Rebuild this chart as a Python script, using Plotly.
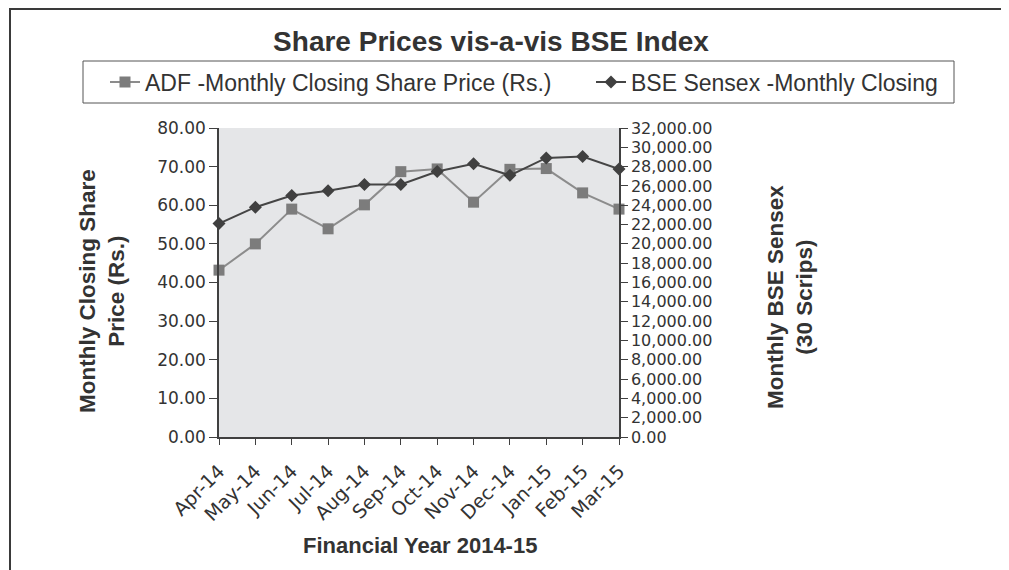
import plotly.graph_objects as go

months = ["Apr-14", "May-14", "Jun-14", "Jul-14", "Aug-14", "Sep-14",
          "Oct-14", "Nov-14", "Dec-14", "Jan-15", "Feb-15", "Mar-15"]
adf_price = [43.2, 50.0, 59.0, 53.9, 60.1, 68.7, 69.4, 60.8, 69.3, 69.5, 63.2, 59.0]
bse_sensex = [22100, 23800, 25000, 25500, 26150, 26150, 27500, 28300, 27100, 28900, 29050, 27750]

left_ticks = [0, 10, 20, 30, 40, 50, 60, 70, 80]
right_ticks = list(range(0, 32001, 2000))

FONT = "Liberation Sans, Arial, sans-serif"
TICKFONT = "DejaVu Sans, Verdana, sans-serif"
TXT = "#333333"
AX = "#404040"

OFF = 8                      # page body margin
W, H = 1009 - OFF, 570 - OFF
# plot area in screen pixels of the reference
L, R, T, B = 219, 619, 128, 437
def px(x):
    return (x - L) / (R - L)
def py(y):
    return (B - y) / (B - T)

fig = go.Figure()
fig.add_trace(go.Scatter(
    x=months, y=adf_price, name="ADF -Monthly Closing Share Price (Rs.)",
    mode="lines+markers", cliponaxis=False, legend="legend",
    line=dict(color="#8c8c8c", width=2),
    marker=dict(symbol="square", size=11, color="#7c7c7c"),
    yaxis="y"))
fig.add_trace(go.Scatter(
    x=months, y=bse_sensex, name="BSE Sensex -Monthly Closing",
    mode="lines+markers", cliponaxis=False, legend="legend2",
    line=dict(color="#454545", width=2),
    marker=dict(symbol="diamond", size=10, color="#404040"),
    yaxis="y2"))

legend_common = dict(orientation="h", xanchor="left", yanchor="middle",
                     y=py(82), borderwidth=0, bgcolor="rgba(0,0,0,0)",
                     font=dict(family=FONT, size=23, color=TXT), itemwidth=30)

fig.update_layout(
    width=W, height=H,
    margin=dict(l=L - OFF, r=W - (R - OFF), t=T - OFF, b=H - (B - OFF)),
    paper_bgcolor="white",
    plot_bgcolor="#e5e6e8",
    font=dict(family=FONT, color=TXT, size=19),
    title=dict(text="<b>Share Prices vis-a-vis BSE Index</b>",
               x=(491 - OFF) / W, xref="container", xanchor="center",
               y=1 - (41 - OFF) / H, yref="container", yanchor="middle",
               font=dict(family=FONT, size=28, color=TXT)),
    showlegend=True,
    legend=dict(x=px(105), **legend_common),
    legend2=dict(x=px(591), **legend_common),
    xaxis=dict(type="category", range=[0, len(months) - 1],
               tickangle=-45, showline=True, linecolor=AX, linewidth=1.5,
               ticks="outside", ticklen=6, tickcolor=AX, showgrid=False,
               ticklabelstandoff=8,
               tickfont=dict(family=TICKFONT, size=19, color=TXT), zeroline=False),
    yaxis=dict(range=[0, 80], tickvals=left_ticks, tickformat=".2f",
               showline=True, linecolor=AX, linewidth=1.5,
               ticks="outside", ticklen=8, tickcolor=AX, showgrid=False,
               zeroline=False, tickfont=dict(family=TICKFONT, size=17, color=TXT)),
    yaxis2=dict(range=[0, 32000], tickvals=right_ticks, tickformat=",.2f",
                overlaying="y", side="right",
                showline=True, linecolor=AX, linewidth=1.5,
                ticks="outside", ticklen=7, tickcolor=AX, showgrid=False,
                zeroline=False, tickfont=dict(family=TICKFONT, size=16, color=TXT)),
    annotations=[
        dict(text="<b>Monthly Closing Share<br>Price (Rs.)</b>", textangle=-90,
             x=px(102), y=py(291), xref="paper", yref="paper",
             showarrow=False, xanchor="center", yanchor="middle",
             font=dict(family=FONT, size=22.5, color=TXT)),
        dict(text="<b>Monthly BSE Sensex<br>(30 Scrips)</b>", textangle=-90,
             x=px(790), y=py(297), xref="paper", yref="paper",
             showarrow=False, xanchor="center", yanchor="middle",
             font=dict(family=FONT, size=22.5, color=TXT)),
        dict(text="<b>Financial Year 2014-15</b>",
             x=px(420), y=py(545), xref="paper", yref="paper",
             showarrow=False, xanchor="center", yanchor="middle",
             font=dict(family=FONT, size=22, color=TXT)),
    ],
    shapes=[
        dict(type="rect", xref="paper", yref="paper",
             x0=px(10), x1=px(1040), y0=py(620), y1=py(OFF + 1),
             line=dict(color="#3a3a3a", width=2), layer="above"),
        dict(type="rect", xref="paper", yref="paper",
             x0=px(83), x1=px(954), y0=py(103), y1=py(61),
             line=dict(color="#555555", width=1)),
    ],
)

fig.write_html("out.html")
